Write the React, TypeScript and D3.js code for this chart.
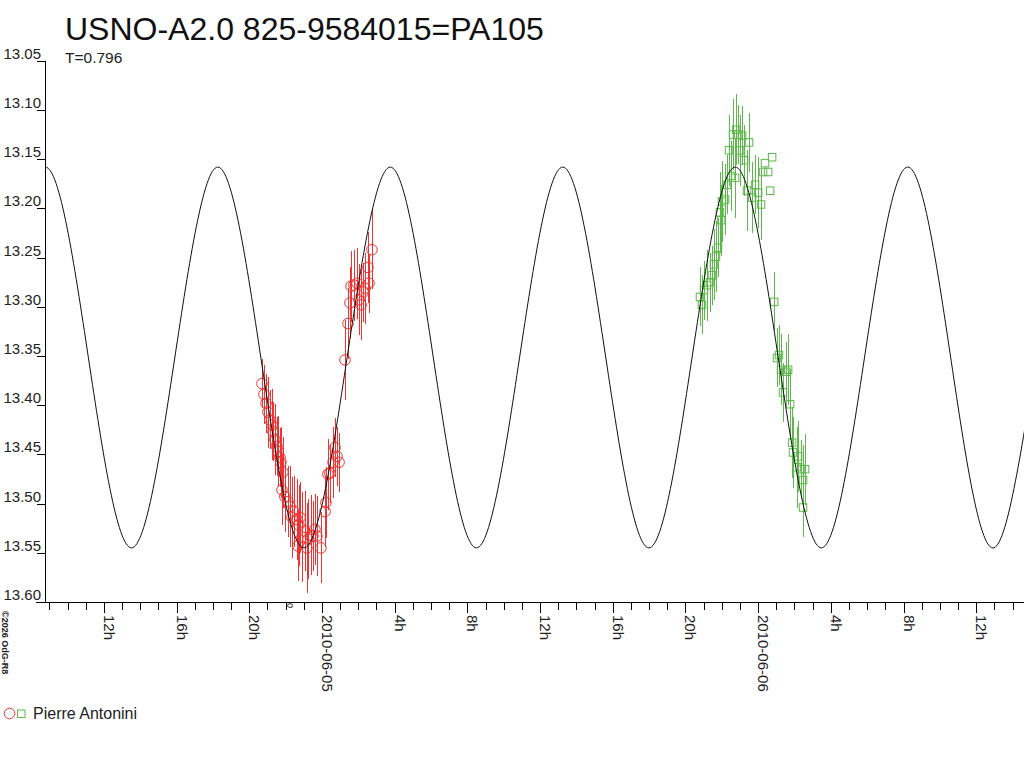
import * as d3 from 'd3';
import React, { useEffect, useRef } from 'react';

const title = 'USNO-A2.0 825-9584015=PA105';
const subtitle = 'T=0.796';
const observer = 'Pierre Antonini';
const credit = '©2026 OdG-R8';

// time is in hours from 2010-06-05 00:00 UT
const dayHours = [0, 24];
const dayNames = ['2010-06-05', '2010-06-06'];
const magTicks = [13.05, 13.1, 13.15, 13.2, 13.25, 13.3, 13.35, 13.4, 13.45, 13.5, 13.55, 13.6];

// night 1 (circles)
const redHours = [
  -3.3, -3.19, -3.08, -2.97, -2.86, -2.75, -2.7, -2.59, -2.48, -2.42, -2.31, -2.26, -2.15, -2.2,
  -2.04, -1.87, -1.76, -1.65, -1.54, -1.38, -1.27, -1.21, -1.32, -1.1, -0.94, -0.83, -0.77, -0.61,
  -0.5, -0.39, -0.28, -0.06, 0.17, 0.22, 0.33, 0.44, 0.61, 0.72, 0.83, 0.94, 1.27, 1.43, 1.54,
  1.6, 1.76, 1.93, 2.04, 2.15, 2.26, 2.37, 2.53, 2.59, 2.75,
];
const redMags = [
  13.378, 13.389, 13.398, 13.407, 13.415, 13.42, 13.427, 13.435, 13.442, 13.447, 13.453, 13.458,
  13.468, 13.486, 13.493, 13.498, 13.503, 13.514, 13.508, 13.516, 13.522, 13.514, 13.543, 13.534,
  13.528, 13.545, 13.536, 13.532, 13.533, 13.526, 13.533, 13.545, 13.508, 13.499, 13.47, 13.469,
  13.458, 13.443, 13.452, 13.458, 13.354, 13.317, 13.296, 13.279, 13.278, 13.276, 13.293, 13.298,
  13.285, 13.281, 13.26, 13.276, 13.242,
];
const redErrs = [
  0.025, 0.03, 0.03, 0.036, 0.03, 0.036, 0.03, 0.036, 0.03, 0.036, 0.03, 0.036, 0.036, 0.036,
  0.036, 0.036, 0.041, 0.041, 0.036, 0.041, 0.041, 0.036, 0.036, 0.046, 0.041, 0.046, 0.041, 0.041,
  0.036, 0.036, 0.041, 0.036, 0.036, 0.036, 0.036, 0.03, 0.036, 0.03, 0.03, 0.03, 0.041, 0.036,
  0.036, 0.036, 0.036, 0.036, 0.036, 0.036, 0.03, 0.036, 0.036, 0.03, 0.04,
];

// night 2 (squares)
const greenHours = [
  20.8, 20.91, 21.02, 21.19, 21.35, 21.46, 21.57, 21.68, 21.79, 21.9, 21.96, 22.01, 22.18, 22.29,
  22.4, 22.51, 22.62, 22.73, 22.79, 22.9, 23.01, 23.12, 23.23, 23.39, 23.5, 23.67, 23.83, 24.0,
  24.16, 24.27, 24.38, 24.55, 24.66, 24.77, 24.88, 25.04, 25.15, 25.26, 25.37, 25.54, 25.65, 25.76,
  25.87, 25.92, 26.14, 26.2, 26.36, 26.47, 26.58, 26.47,
];
const greenMags = [
  13.29, 13.298, 13.283, 13.278, 13.275, 13.268, 13.257, 13.249, 13.24, 13.204, 13.212, 13.193,
  13.191, 13.176, 13.141, 13.167, 13.125, 13.169, 13.12, 13.125, 13.141, 13.126, 13.151, 13.182,
  13.133, 13.189, 13.176, 13.184, 13.196, 13.163, 13.154, 13.163, 13.182, 13.148, 13.295, 13.352,
  13.349, 13.364, 13.387, 13.366, 13.364, 13.399, 13.438, 13.448, 13.463, 13.452, 13.465, 13.476,
  13.465, 13.504,
];
const greenErrs = [
  0.03, 0.03, 0.03, 0.036, 0.03, 0.03, 0.036, 0.036, 0.03, 0.041, 0.036, 0.041, 0.036, 0.03,
  0.036, 0.036, 0.036, 0.041, 0.036, 0.03, 0.036, 0.03, 0.036, 0.041, 0.03, 0.036, 0.03, 0.036,
  0.036, 0, 0, 0, 0, 0, 0.03, 0.03, 0.03, 0.036, 0.03, 0.03, 0.036, 0.036, 0.036, 0.036, 0.041,
  0.036, 0.03, 0.036, 0.036, 0.03,
];

// fitted light curve, read at quarter periods
const fitHours = [
  -17.59, -15.22, -12.85, -10.48, -8.1, -5.73, -3.36, -0.99, 1.38, 3.76, 6.13, 8.5, 10.87, 13.25,
  15.62, 17.99, 20.36, 22.74, 25.11, 27.48, 29.85, 32.23, 34.6, 36.97, 39.34, 41.72,
];
const fitMags = [
  13.352, 13.158, 13.352, 13.545, 13.352, 13.158, 13.352, 13.545, 13.352, 13.158, 13.352, 13.545,
  13.352, 13.158, 13.352, 13.545, 13.352, 13.158, 13.352, 13.545, 13.352, 13.158, 13.352, 13.545,
  13.352, 13.158,
];

const RED = '#ee3333';
const GREEN = '#5cb84a';
const FONT = '"Liberation Sans", Arial, sans-serif';

const LightCurve = ({ width, height }: { width: number; height: number }) => {
  const svgRef = useRef(null);

  useEffect(() => {
    const svg = d3.select(svgRef.current);
    svg.selectAll('*').remove();

    const left = 45;
    const top = 60.8;
    const bottom = 602;

    const x = d3.scaleLinear().domain([-15.24, 38.63]).range([left, width]);
    const y = d3.scaleLinear().domain([13.05, 13.6]).range([top, bottom]);

    svg.append('rect').attr('width', width).attr('height', height).attr('fill', '#fff');

    svg
      .append('defs')
      .append('clipPath')
      .attr('id', 'plot')
      .append('rect')
      .attr('x', left)
      .attr('y', 0)
      .attr('width', width - left)
      .attr('height', bottom);

    // title
    svg
      .append('text')
      .attr('x', 65)
      .attr('y', 40)
      .attr('font-family', FONT)
      .attr('font-size', 32)
      .attr('fill', '#111')
      .text(title);
    svg
      .append('text')
      .attr('x', 65)
      .attr('y', 63)
      .attr('font-family', FONT)
      .attr('font-size', 15.5)
      .attr('fill', '#222')
      .text(subtitle);

    // y axis
    const ya = svg.append('g').attr('shape-rendering', 'crispEdges');
    ya.append('line')
      .attr('x1', left + 0.5)
      .attr('x2', left + 0.5)
      .attr('y1', y(13.05))
      .attr('y2', bottom)
      .attr('stroke', '#000');
    magTicks.forEach((m) => {
      const py = Math.round(y(m)) + 0.5;
      ya.append('line')
        .attr('x1', 37)
        .attr('x2', left)
        .attr('y1', py)
        .attr('y2', py)
        .attr('stroke', '#000');
      ya.append('text')
        .attr('x', 41)
        .attr('y', py - 3)
        .attr('text-anchor', 'end')
        .attr('font-family', FONT)
        .attr('font-size', 15)
        .attr('fill', '#222')
        .text(m.toFixed(2));
    });

    // x axis
    const xa = svg.append('g').attr('shape-rendering', 'crispEdges');
    xa.append('line')
      .attr('x1', 36)
      .attr('x2', width)
      .attr('y1', bottom + 0.5)
      .attr('y2', bottom + 0.5)
      .attr('stroke', '#000');
    d3.range(-15, 39).forEach((h) => {
      const px = Math.round(x(h)) + 0.5;
      const major = ((h % 4) + 4) % 4 === 0;
      xa.append('line')
        .attr('x1', px)
        .attr('x2', px)
        .attr('y1', bottom)
        .attr('y2', bottom + (major ? 11 : 8))
        .attr('stroke', '#000');
      if (major) {
        const d = dayHours.indexOf(h);
        const label = d >= 0 ? dayNames[d] : `${((h % 24) + 24) % 24}h`;
        xa.append('text')
          .attr('transform', `translate(${px - 0.5},615) rotate(90)`)
          .attr('font-family', FONT)
          .attr('font-size', 15)
          .attr('fill', '#222')
          .text(label);
      }
    });
    svg
      .append('text')
      .attr('transform', `translate(${x(-1.93)},603) rotate(90)`)
      .attr('font-family', FONT)
      .attr('font-size', 9)
      .attr('fill', '#222')
      .text('0');

    svg
      .append('text')
      .attr('transform', 'translate(2,611) rotate(90)')
      .attr('font-family', FONT)
      .attr('font-size', 9)
      .attr('font-weight', 'bold')
      .attr('fill', '#222')
      .text(credit);

    const plot = svg.append('g').attr('clip-path', 'url(#plot)');

    const red = redHours.map((h, i) => ({ h, m: redMags[i], e: redErrs[i] }));
    const green = greenHours.map((h, i) => ({ h, m: greenMags[i], e: greenErrs[i] }));

    const bars = (data: { h: number; m: number; e: number }[], color: string) => {
      plot
        .append('g')
        .attr('shape-rendering', 'crispEdges')
        .selectAll('line')
        .data(data.filter((d) => d.e > 0))
        .enter()
        .append('line')
        .attr('x1', (d) => Math.round(x(d.h)) + 0.5)
        .attr('x2', (d) => Math.round(x(d.h)) + 0.5)
        .attr('y1', (d) => y(d.m - d.e))
        .attr('y2', (d) => y(d.m + d.e))
        .attr('stroke', color)
        .attr('stroke-width', 1.2);
    };

    bars(red, RED);
    bars(green, GREEN);

    plot
      .append('g')
      .selectAll('circle')
      .data(red)
      .enter()
      .append('circle')
      .attr('cx', (d) => x(d.h))
      .attr('cy', (d) => y(d.m))
      .attr('r', 5.3)
      .attr('fill', 'none')
      .attr('stroke', RED)
      .attr('stroke-width', 1);

    plot
      .append('g')
      .selectAll('rect')
      .data(green)
      .enter()
      .append('rect')
      .attr('x', (d) => x(d.h) - 3.75)
      .attr('y', (d) => y(d.m) - 3.75)
      .attr('width', 7.5)
      .attr('height', 7.5)
      .attr('fill', 'none')
      .attr('stroke', GREEN)
      .attr('stroke-width', 1);

    const fit = fitHours.map((h, i) => [h, fitMags[i]]);
    const line = d3
      .line()
      .x((d) => x(d[0]))
      .y((d) => y(d[1]))
      .curve(d3.curveNatural);
    plot
      .append('path')
      .datum(fit)
      .attr('d', line as any)
      .attr('fill', 'none')
      .attr('stroke', '#111')
      .attr('stroke-width', 1);

    // legend
    svg
      .append('circle')
      .attr('cx', 9.5)
      .attr('cy', 713.5)
      .attr('r', 5.3)
      .attr('fill', 'none')
      .attr('stroke', RED);
    svg
      .append('rect')
      .attr('x', 17.5)
      .attr('y', 710)
      .attr('width', 7.5)
      .attr('height', 7.5)
      .attr('fill', 'none')
      .attr('stroke', GREEN);
    svg
      .append('text')
      .attr('x', 33)
      .attr('y', 719)
      .attr('font-family', FONT)
      .attr('font-size', 16)
      .attr('fill', '#222')
      .text(observer);
  }, [width, height]);

  return (
    <svg
      ref={svgRef}
      width={width}
      height={height}
      style={{ position: 'absolute', left: 0, top: 0, display: 'block' }}
    />
  );
};

export default function App() {
  return <LightCurve width={1024} height={768} />;
}
